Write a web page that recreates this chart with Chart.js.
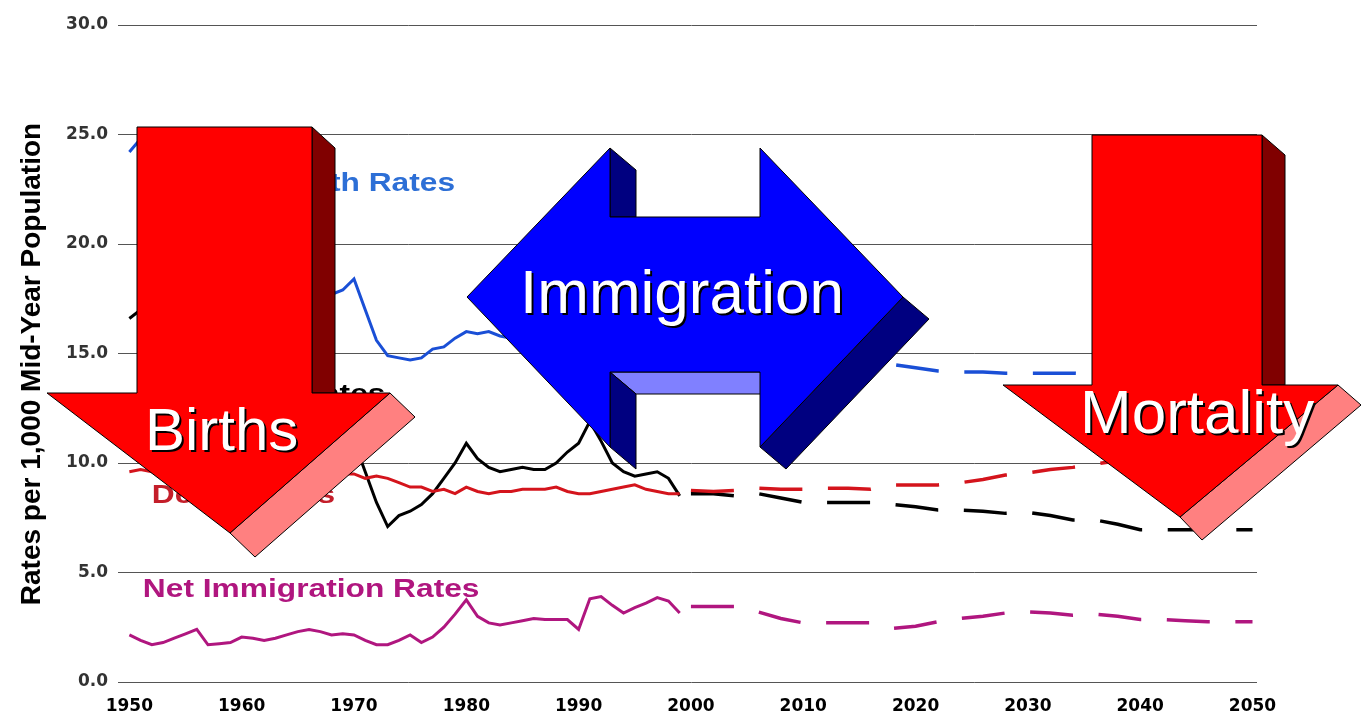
<!DOCTYPE html>
<html>
<head>
<meta charset="utf-8">
<script src="https://cdn.jsdelivr.net/npm/chart.js@4.4.1/dist/chart.umd.min.js"></script>
<style>
  html, body { margin: 0; padding: 0; background: #fff; }
  canvas { display: block; }
</style>
</head>
<body>
<canvas id="rates" width="1361" height="717"></canvas>
<script>
const histYears = [1950, 1951, 1952, 1953, 1954, 1955, 1956, 1957, 1958, 1959,
  1960, 1961, 1962, 1963, 1964, 1965, 1966, 1967, 1968, 1969,
  1970, 1971, 1972, 1973, 1974, 1975, 1976, 1977, 1978, 1979,
  1980, 1981, 1982, 1983, 1984, 1985, 1986, 1987, 1988, 1989,
  1990, 1991, 1992, 1993, 1994, 1995, 1996, 1997, 1998, 1999];
const birthHist = [24.2, 24.8, 25.0, 25.0, 25.2, 25.0, 25.1, 25.2, 24.5, 24.2,
  23.7, 23.3, 22.4, 21.7, 21.1, 19.4, 18.4, 17.8, 17.7, 17.9,
  18.4, 17.0, 15.6, 14.9, 14.8, 14.7, 14.8, 15.2, 15.3, 15.7,
  16.0, 15.9, 16.0, 15.8, 15.7, 15.8, 15.6, 15.7, 16.0, 16.4,
  16.7, 16.3, 15.9, 15.5, 15.2, 14.8, 14.7, 14.5, 14.6, 14.5];
const deathHist = [9.6, 9.7, 9.6, 9.6, 9.2, 9.3, 9.4, 9.6, 9.5, 9.4,
  9.5, 9.3, 9.5, 9.6, 9.4, 9.4, 9.5, 9.4, 9.7, 9.5,
  9.5, 9.3, 9.4, 9.3, 9.1, 8.9, 8.9, 8.7, 8.8, 8.6,
  8.9, 8.7, 8.6, 8.7, 8.7, 8.8, 8.8, 8.8, 8.9, 8.7,
  8.6, 8.6, 8.7, 8.8, 8.9, 9.0, 8.8, 8.7, 8.6, 8.6];
const growthHist = [16.6, 17.0, 17.2, 17.0, 17.8, 17.5, 17.6, 17.4, 16.6, 16.4,
  16.0, 15.8, 14.6, 13.9, 13.5, 12.4, 11.4, 10.8, 10.4, 10.8,
  11.0, 9.6, 8.2, 7.1, 7.6, 7.8, 8.1, 8.6, 9.3, 10.0,
  10.9, 10.2, 9.8, 9.6, 9.7, 9.8, 9.7, 9.7, 10.0, 10.5,
  10.9, 11.9, 11.0, 10.0, 9.6, 9.4, 9.5, 9.6, 9.3, 8.5];
const immigHist = [2.15, 1.9, 1.7, 1.8, 2.0, 2.2, 2.4, 1.7, 1.75, 1.8,
  2.05, 2.0, 1.9, 2.0, 2.15, 2.3, 2.4, 2.3, 2.15, 2.2,
  2.15, 1.9, 1.7, 1.7, 1.9, 2.15, 1.8, 2.05, 2.5, 3.1,
  3.75, 3.0, 2.7, 2.6, 2.7, 2.8, 2.9, 2.85, 2.85, 2.85,
  2.4, 3.8, 3.9, 3.5, 3.15, 3.4, 3.6, 3.85, 3.7, 3.15];

const projYears = [2000, 2002, 2004, 2006, 2008, 2010, 2012, 2014, 2016, 2018, 2020, 2022, 2024,
  2026, 2028, 2030, 2032, 2034, 2036, 2038, 2040, 2042, 2044, 2046, 2048, 2050];
const birthProj = [14.6, 14.5, 14.4, 14.4, 14.5, 14.5, 14.6, 14.6, 14.6, 14.5, 14.35, 14.2, 14.15,
  14.15, 14.1, 14.1, 14.1, 14.1, 14.05, 14.0, 14.0, 13.95, 13.9, 13.9, 13.85, 13.85];
const deathProj = [8.75, 8.7, 8.75, 8.85, 8.8, 8.8, 8.85, 8.85, 8.8, 9.0, 9.0, 9.0, 9.1,
  9.25, 9.45, 9.55, 9.7, 9.8, 9.95, 10.1, 10.3, 10.5, 10.7, 10.9, 11.1, 11.3];
const growthProj = [8.6, 8.6, 8.5, 8.6, 8.4, 8.2, 8.2, 8.2, 8.2, 8.1, 8.0, 7.85, 7.85,
  7.8, 7.7, 7.75, 7.6, 7.4, 7.4, 7.2, 6.95, 6.95, 6.95, 6.95, 6.95, 6.95];
const immigProj = [3.45, 3.45, 3.45, 3.2, 2.9, 2.7, 2.7, 2.7, 2.7, 2.45, 2.55, 2.75, 2.9,
  3.0, 3.15, 3.2, 3.15, 3.05, 3.1, 3.0, 2.85, 2.85, 2.8, 2.75, 2.75, 2.75];

const xTicks = [1950, 1960, 1970, 1980, 1990, 2000, 2010, 2020, 2030, 2040, 2050];

const BLUE = "#1a4fd6", RED = "#d4141c", BLACK = "#000000", MAGENTA = "#b0167f";

const pts = (xs, ys) => xs.map((x, i) => ({ x: x, y: ys[i] }));

function line(values, years, color, dashed) {
  return {
    data: pts(years, values),
    borderColor: color,
    borderWidth: dashed ? 3.5 : 3,
    borderDash: dashed ? [43, 25.6] : [],
    pointRadius: 0,
    tension: 0,
    fill: false,
  };
}

// text labels sitting beside the lines (under the arrows)
const seriesLabels = [
  { text: "Birth Rates", year: 1979.0, value: 22.4, color: "#2d6fd6", align: "right" },
  { text: "Growth Rates", year: 1972.8, value: 12.8, color: "#000", align: "right" },
  { text: "Death Rates", year: 1952.0, value: 8.17, color: "#c41e2a", align: "left" },
  { text: "Net Immigration Rates", year: 1951.2, value: 3.9, color: "#b0167f", align: "left" },
];

function poly(ctx, p, fill) {
  ctx.beginPath();
  p.forEach(function (q, i) { i ? ctx.lineTo(q[0], q[1]) : ctx.moveTo(q[0], q[1]); });
  ctx.closePath();
  ctx.fillStyle = fill;
  ctx.fill();
  ctx.strokeStyle = "#000";
  ctx.lineWidth = 1;
  ctx.stroke();
}

function bigText(ctx, text, px, py, align, size) {
  ctx.save();
  ctx.font = size + 'px "Liberation Sans", Arial, sans-serif';
  ctx.textAlign = align;
  ctx.textBaseline = "alphabetic";
  ctx.fillStyle = "#000";
  ctx.fillText(text, px + 2, py + 2);
  ctx.fillStyle = "#fff";
  ctx.fillText(text, px, py);
  ctx.restore();
}

const overlay = {
  id: "overlay",
  afterDatasetsDraw(chart) {
    const ctx = chart.ctx, x = chart.scales.x, y = chart.scales.y;
    seriesLabels.forEach(function (l) {
      ctx.save();
      ctx.translate(x.getPixelForValue(l.year), y.getPixelForValue(l.value));
      ctx.scale(1.22, 1);
      ctx.font = 'bold 26px "Liberation Sans", Arial, sans-serif';
      ctx.fillStyle = l.color;
      ctx.textAlign = l.align;
      ctx.textBaseline = "alphabetic";
      ctx.fillText(l.text, 0, 0);
      ctx.restore();
    });
  },
  afterDraw(chart) {
    const ctx = chart.ctx;

    // y axis title
    ctx.save();
    ctx.translate(32, 364);
    ctx.rotate(-Math.PI / 2);
    ctx.font = 'bold 28px "Liberation Sans", Arial, sans-serif';
    ctx.fillStyle = "#000";
    ctx.textAlign = "center";
    ctx.textBaseline = "middle";
    ctx.fillText("Rates per 1,000 Mid-Year Population", 0, 0);
    ctx.restore();

    ctx.save();
    ctx.lineJoin = "miter";

    // Births arrow
    poly(ctx, [[312, 127], [335, 148], [335, 393], [312, 393]], "#800000");
    poly(ctx, [[390, 393], [415, 417], [255, 557], [230, 533]], "#ff8080");
    poly(ctx, [[137, 127], [312, 127], [312, 393], [390, 393], [230, 533], [47, 393], [137, 393]], "#ff0000");
    bigText(ctx, "Births", 145, 450, "left", 60);

    // Immigration double arrow
    poly(ctx, [[610, 148], [636, 170], [636, 217], [610, 217]], "#000080");
    poly(ctx, [[903, 297], [929, 319], [786, 469], [760, 447]], "#000080");
    poly(ctx, [[610, 372], [760, 372], [786, 394], [636, 394]], "#8080ff");
    poly(ctx, [[610, 372], [636, 394], [636, 469], [610, 447]], "#000080");
    poly(ctx, [[467, 297], [610, 148], [610, 217], [760, 217], [760, 148], [903, 297],
      [760, 447], [760, 372], [610, 372], [610, 447]], "#0000ff");
    bigText(ctx, "Immigration", 682, 313, "center", 62);

    // Mortality arrow
    poly(ctx, [[1262, 135], [1285, 155], [1285, 385], [1262, 385]], "#800000");
    poly(ctx, [[1338, 385], [1361, 405], [1202, 540], [1180, 517]], "#ff8080");
    poly(ctx, [[1092, 135], [1262, 135], [1262, 385], [1338, 385], [1180, 517], [1003, 385], [1092, 385]], "#ff0000");
    bigText(ctx, "Mortality", 1080, 433, "left", 62);

    ctx.restore();
  },
};

new Chart(document.getElementById("rates").getContext("2d"), {
  type: "line",
  data: {
    datasets: [
      line(birthHist, histYears, BLUE, false),
      line(deathHist, histYears, RED, false),
      line(growthHist, histYears, BLACK, false),
      line(immigHist, histYears, MAGENTA, false),
      line(birthProj, projYears, BLUE, true),
      line(deathProj, projYears, RED, true),
      line(growthProj, projYears, BLACK, true),
      line(immigProj, projYears, MAGENTA, true),
    ],
  },
  options: {
    responsive: false,
    devicePixelRatio: 1,
    animation: false,
    layout: { padding: { left: 0, top: 25, right: 104, bottom: 0 } },
    plugins: { legend: { display: false }, tooltip: { enabled: false } },
    scales: {
      x: {
        type: "linear",
        min: 1949.7,
        max: 2050.4,
        afterBuildTicks: function (scale) { scale.ticks = xTicks.map(function (v) { return { value: v }; }); },
        afterFit: function (scale) { scale.height = 35; },
        grid: { display: false, drawTicks: false },
        border: { display: false },
        ticks: {
          padding: 14,
          color: "#000",
          font: { family: "DejaVu Sans", size: 17, weight: "bold" },
          maxRotation: 0,
          callback: function (v) { return String(v); },
        },
      },
      y: {
        min: 0,
        max: 30,
        afterFit: function (scale) { scale.width = 126; },
        grid: { color: "#555", lineWidth: 1, tickLength: 8 },
        border: { display: false },
        ticks: {
          stepSize: 5,
          padding: 10,
          color: "#333",
          font: { family: "DejaVu Sans", size: 17, weight: "bold" },
          callback: function (v) { return v.toFixed(1); },
        },
      },
    },
  },
  plugins: [overlay],
});
</script>
</body>
</html>
